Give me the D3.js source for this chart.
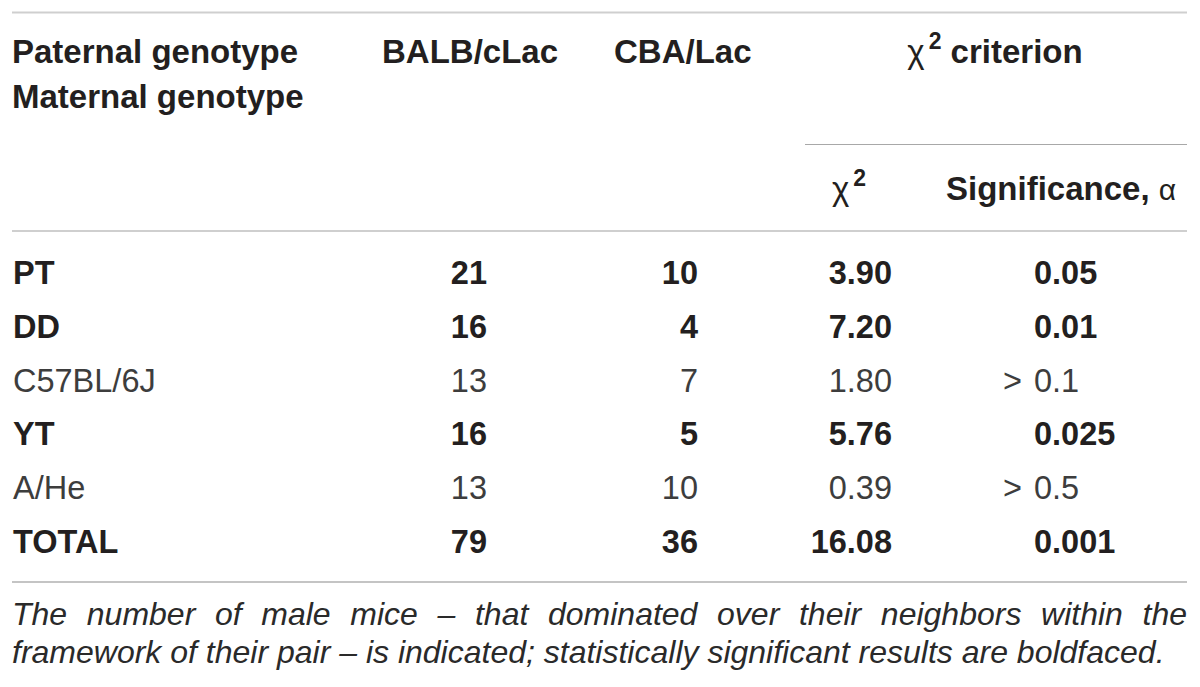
<!DOCTYPE html>
<html>
<head>
<meta charset="utf-8">
<script src="https://cdn.jsdelivr.net/npm/d3@7"></script>
<style>
  html, body { margin: 0; padding: 0; background: #fff; }
  svg { display: block; }
  text { font-family: "Liberation Sans", Arial, Helvetica, sans-serif; }
</style>
</head>
<body>
<svg id="chart" width="1200" height="687"></svg>
<script>
// ---- data ----
const headerLeft = ["Paternal genotype", "Maternal genotype"];
const columnHeaders = ["BALB/cLac", "CBA/Lac"];
const criterionLabel = "criterion";
const subHeaders = ["χ", "Significance, "];
const rowLabels = ["PT", "DD", "C57BL/6J", "YT", "A/He", "TOTAL"];
const balbValues = [21, 16, 13, 16, 13, 79];
const cbaValues = [10, 4, 7, 5, 10, 36];
const chi2Values = ["3.90", "7.20", "1.80", "5.76", "0.39", "16.08"];
const sigPrefixes = ["", "", ">", "", ">", ""];
const sigValues = ["0.05", "0.01", "0.1", "0.025", "0.5", "0.001"];
const isSignificant = [true, true, false, true, false, true];
const footnoteLines = [
  "The number of male mice – that dominated over their neighbors within the",
  "framework of their pair – is indicated; statistically significant results are boldfaced."
];

// ---- layout ----
const svg = d3.select("#chart");
const left = 12, right = 1187;
const HFS = 33, FS = 32.5;
const dark = "#231f20", light = "#3d3d3d";

const y = d3.scalePoint().domain(rowLabels).range([284, 553]);

// rules
const rule = (x1, x2, yy, color, w) => svg.append("line")
  .attr("x1", x1).attr("x2", x2).attr("y1", yy).attr("y2", yy)
  .attr("stroke", color).attr("stroke-width", w);
rule(left, right, 12.5, "#cfcfcf", 2);
rule(805, right, 144.5, "#a8a8a8", 1.2);
rule(left, right, 231, "#cfcfcf", 2);
rule(left, right, 582, "#c4c4c4", 2);

// header
const hdr = svg.append("g").attr("font-size", HFS).attr("font-weight", "bold").attr("fill", dark);
hdr.selectAll("text.hl").data(headerLeft).join("text")
  .attr("class", "hl").attr("x", left).attr("y", (d, i) => 63 + i * 45).text(d => d);
hdr.selectAll("text.ch").data(columnHeaders).join("text")
  .attr("class", "ch").attr("x", (d, i) => [382, 614][i]).attr("y", 63).text(d => d);

const crit = hdr.append("text").attr("x", 995).attr("y", 63).attr("text-anchor", "middle");
crit.append("tspan").attr("font-weight", "normal").text("χ");
crit.append("tspan").attr("font-size", 23).attr("dy", -14).attr("dx", 4).text("2");
crit.append("tspan").attr("dy", 14).text(" " + criterionLabel);

const sub1 = hdr.append("text").attr("x", 832).attr("y", 200);
sub1.append("tspan").attr("font-weight", "normal").text(subHeaders[0]);
sub1.append("tspan").attr("font-size", 23).attr("dy", -14).attr("dx", 4).text("2");
const sub2 = hdr.append("text").attr("x", 946).attr("y", 200);
sub2.append("tspan").text(subHeaders[1]);
sub2.append("tspan").attr("font-weight", "normal").attr("font-size", 30).text("α");

// body rows
const rows = rowLabels.map((label, i) => ({
  label, balb: balbValues[i], cba: cbaValues[i], chi2: chi2Values[i],
  pre: sigPrefixes[i], sig: sigValues[i], bold: isSignificant[i]
}));

const g = svg.append("g").attr("font-size", FS);
const rowG = g.selectAll("g.row").data(rows).join("g")
  .attr("class", "row")
  .attr("transform", d => `translate(0,${y(d.label)})`)
  .attr("font-weight", d => d.bold ? "bold" : "normal")
  .attr("fill", d => d.bold ? dark : light);

rowG.append("text").attr("x", left + 1).text(d => d.label);
rowG.append("text").attr("x", 487).attr("text-anchor", "end").text(d => d.balb);
rowG.append("text").attr("x", 698).attr("text-anchor", "end").text(d => d.cba);
rowG.append("text").attr("x", 892).attr("text-anchor", "end").text(d => d.chi2);
rowG.append("text").attr("x", 1022).attr("text-anchor", "end").text(d => d.pre);
rowG.append("text").attr("x", 1034).text(d => d.sig);

// footnote (first line justified)
const fn = svg.append("g").attr("font-size", 32).attr("font-style", "italic").attr("fill", "#2a2a2a");
footnoteLines.forEach((line, li) => {
  const yy = 625 + li * 38;
  if (li === 0) {
    const words = line.split(" ");
    const t = fn.selectAll(null).data(words).join("text").attr("y", yy).text(d => d);
    const widths = t.nodes().map(n => n.getComputedTextLength());
    const total = d3.sum(widths);
    const gap = (right - left - total) / (words.length - 1);
    let x = left;
    t.attr("x", (d, i) => { const xx = x; x += widths[i] + gap; return xx; });
  } else {
    fn.append("text").attr("x", left).attr("y", yy).text(line);
  }
});
</script>
</body>
</html>
